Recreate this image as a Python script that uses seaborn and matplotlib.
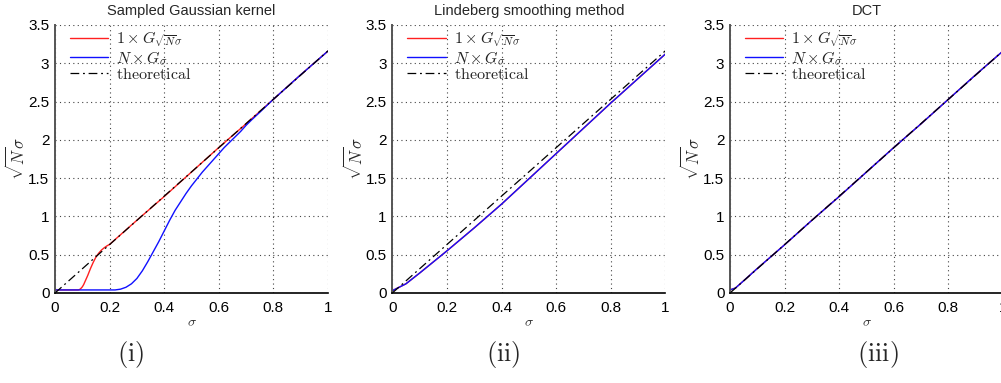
import matplotlib
matplotlib.use("Agg")
import matplotlib.pyplot as plt
import seaborn as sns

# ---------------- data ----------------
titles = ["Sampled Gaussian kernel", "Lindeberg smoothing method", "DCT"]
captions = ["(i)", "(ii)", "(iii)"]
x_ticks = [0, 0.2, 0.4, 0.6, 0.8, 1.0]
x_ticklabels = ["0", "0.2", "0.4", "0.6", "0.8", "1"]
y_ticks = [0, 0.5, 1, 1.5, 2, 2.5, 3, 3.5]
y_ticklabels = ["0", "0.5", "1", "1.5", "2", "2.5", "3", "3.5"]

theory_sigma = [0.0, 1.0]
theory_vals = [0.0, 3.162]

# panel (i) sampled Gaussian kernel
p1_red_sigma = [0.0, 0.05, 0.085, 0.09, 0.095, 0.10, 0.105, 0.11, 0.115, 0.12, 0.13,
                0.14, 0.15, 0.16, 0.17, 0.18, 0.19, 0.2, 0.3, 0.4, 0.5, 0.6, 0.7,
                0.8, 0.9, 1.0]
p1_red_vals = [0.04, 0.04, 0.04, 0.045, 0.06, 0.08, 0.11, 0.15, 0.19, 0.23, 0.32,
               0.40, 0.47, 0.52, 0.56, 0.59, 0.615, 0.635, 0.95, 1.26, 1.58, 1.90, 2.21,
               2.53, 2.85, 3.16]
p1_blue_sigma = [0.0, 0.22, 0.24, 0.26, 0.28, 0.30, 0.32, 0.34, 0.36, 0.38, 0.40,
                 0.42, 0.44, 0.46, 0.48, 0.50, 0.52, 0.54, 0.56, 0.58, 0.60, 0.62,
                 0.64, 0.66, 0.68, 0.70, 0.72, 0.75, 0.8, 0.9, 1.0]
p1_blue_vals = [0.04, 0.04, 0.05, 0.075, 0.12, 0.19, 0.29, 0.41, 0.54, 0.67, 0.81,
                0.95, 1.08, 1.19, 1.30, 1.40, 1.49, 1.58, 1.66, 1.74, 1.82, 1.90,
                1.97, 2.04, 2.11, 2.19, 2.26, 2.36, 2.53, 2.85, 3.16]

# panel (ii) Lindeberg smoothing method
p2_sigma = [0.0, 0.05, 0.1, 0.2, 0.3, 0.4, 0.5, 0.6, 0.7, 0.8, 0.9, 1.0]
p2_red_vals = [0.03, 0.12, 0.26, 0.55, 0.85, 1.16, 1.49, 1.82, 2.15, 2.48, 2.80, 3.12]
p2_blue_vals = [0.03, 0.12, 0.26, 0.55, 0.85, 1.16, 1.49, 1.82, 2.15, 2.48, 2.80, 3.12]

# panel (iii) DCT
p3_sigma = [0.0, 0.02, 0.05, 0.1, 0.2, 0.3, 0.4, 0.5, 0.6, 0.7, 0.8, 0.9, 1.0]
p3_red_vals = [0.04, 0.065, 0.16, 0.32, 0.63, 0.95, 1.26, 1.58, 1.90, 2.21, 2.53, 2.85, 3.16]
p3_blue_vals = [0.04, 0.065, 0.16, 0.32, 0.63, 0.95, 1.26, 1.58, 1.90, 2.21, 2.53, 2.85, 3.16]

panels = [
    (p1_red_sigma, p1_red_vals, p1_blue_sigma, p1_blue_vals),
    (p2_sigma, p2_red_vals, p2_sigma, p2_blue_vals),
    (p3_sigma, p3_red_vals, p3_sigma, p3_blue_vals),
]

legend_labels = [r"$1\times G_{\sqrt{N}\sigma}$", r"$N\times G_{\sigma}$", r"$\mathrm{theoretical}$"]

# ---------------- style ----------------
sns.set_style("white")
plt.rcParams["font.family"] = ["Liberation Sans", "DejaVu Sans"]
plt.rcParams["mathtext.fontset"] = "cm"

W, H = 1001, 383
fig = plt.figure(figsize=(W / 100, H / 100), dpi=100)

ax_lefts = [55, 392.3, 730]
ax_width = 273
ax_top, ax_bottom = 25, 293
caption_x = [131, 503, 878]

for i, (rs, rv, bs, bv) in enumerate(panels):
    ax = fig.add_axes([ax_lefts[i] / W, (H - ax_bottom) / H,
                       ax_width / W, (ax_bottom - ax_top) / H])
    sns.lineplot(x=rs, y=rv, ax=ax, color="#ff2020", linewidth=1.0,
                 sort=False, estimator=None, label=legend_labels[0])
    sns.lineplot(x=bs, y=bv, ax=ax, color="#1010ff", linewidth=1.0,
                 sort=False, estimator=None, label=legend_labels[1])
    sns.lineplot(x=theory_sigma, y=theory_vals, ax=ax, color="black", linewidth=0.9,
                 sort=False, estimator=None, label=legend_labels[2],
                 linestyle=(0, (7, 3, 1.5, 3)))

    ax.set_xlim(0, 1)
    ax.set_ylim(0, 3.5)
    ax.set_xticks(x_ticks)
    ax.set_xticklabels(x_ticklabels)
    ax.set_yticks(y_ticks)
    ax.set_yticklabels(y_ticklabels)
    ax.tick_params(axis="both", direction="in", length=3, width=0.8,
                   labelsize=11, colors="black")
    ax.tick_params(axis="x", pad=6)
    ax.tick_params(axis="y", pad=4)
    ax.grid(True, color="#444444", linestyle=(0, (1, 3)), linewidth=0.8)
    ax.set_axisbelow(True)
    for s in ["top", "right"]:
        ax.spines[s].set_visible(False)
    ax.spines["left"].set_color("#555555")
    ax.spines["left"].set_linewidth(1.4)
    ax.spines["bottom"].set_color("black")
    ax.spines["bottom"].set_linewidth(1.2)

    ax.set_title(titles[i], fontsize=10.5, pad=7)
    ax.set_xlabel(r"$\sigma$", fontsize=10, labelpad=0)
    ax.set_ylabel(r"$\sqrt{N}\sigma$", fontsize=12, labelpad=0)

    leg = ax.legend(loc="upper left", bbox_to_anchor=(0.055, 0.985), frameon=False,
                    fontsize=11.5, handlelength=2.4, handletextpad=0.5,
                    labelspacing=0.0, borderpad=0, borderaxespad=0)
    for t in leg.get_texts():
        t.set_color("#222222")

    fig.text(caption_x[i] / W, (H - 355) / H, r"$\mathrm{" + captions[i] + "}$",
             fontsize=19, ha="center", va="center")

fig.savefig("out.png", dpi=100)
